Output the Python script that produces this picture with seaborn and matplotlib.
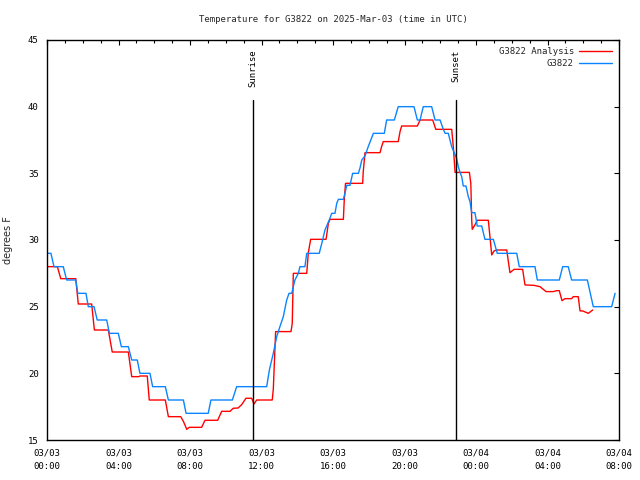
import matplotlib
matplotlib.use("Agg")
import matplotlib.pyplot as plt
import matplotlib.dates as mdates
from matplotlib.ticker import MultipleLocator
import numpy as np
import pandas as pd
import seaborn as sns

# ---------------- data ----------------
start_time = "2025-03-03 00:00"

# G3822 observations: hours after start, temperature (F)
obs_hours = [0.00, 0.22, 0.39, 0.91, 1.10, 1.61, 1.72, 2.18, 2.31, 2.63, 2.81, 3.34,
             3.49, 3.99, 4.16, 4.55, 4.74, 5.05, 5.20, 5.76, 5.91, 6.62, 6.79, 7.63,
             7.78, 9.02, 9.17, 10.37, 10.61, 12.29, 12.44, 12.66, 12.85, 13.03, 13.22,
             13.41, 13.54, 13.69, 13.87, 14.06, 14.15, 14.43, 14.53, 15.23, 15.42,
             15.55, 15.79, 15.93, 16.11, 16.21, 16.30, 16.58, 16.67, 16.77, 16.95,
             17.10, 17.42, 17.51, 17.61, 17.79, 17.97, 18.26, 18.87, 19.00, 19.43,
             19.65, 20.53, 20.72, 20.87, 21.05, 21.52, 21.71, 21.99, 22.17, 22.27,
             22.45, 22.64, 22.92, 23.01, 23.10, 23.20, 23.29, 23.44, 23.57, 23.66,
             23.76, 23.94, 24.07, 24.32, 24.50, 24.97, 25.19, 26.28, 26.42, 27.30,
             27.43, 28.66, 28.85, 29.16, 29.35, 30.23, 30.56, 31.59, 31.78]
obs_temp = [29, 29, 28, 28, 27, 27, 26, 26, 25, 25, 24, 24,
            23, 23, 22, 22, 21, 21, 20, 20, 19, 19, 18, 18,
            17, 17, 18, 18, 19, 19, 20.25, 21.5, 22.75, 23.5, 24.25,
            25.5, 26, 26, 27, 27.5, 28, 28, 29, 29, 30,
            30.75, 31.5, 32, 32, 32.75, 33.05, 33.05, 33.5, 34.1, 34.1,
            35, 35, 35.4, 36, 36.3, 37, 38, 38, 39, 39,
            40, 40, 39, 39, 40, 40, 39, 39, 38.3, 38,
            38, 37, 36.1, 35.5, 35.1, 34.75, 34.05, 34.05, 33.25, 32.9,
            32.05, 32.05, 31.05, 31.05, 30.05, 30.05, 29, 29, 28, 28,
            27, 27, 28, 28, 27, 27, 25, 25, 26]

# G3822 Analysis: hours after start, temperature (F)
ana_hours = [0.00, 0.58, 0.77, 1.61, 1.75, 2.50, 2.65, 3.43, 3.65, 4.55, 4.74, 5.13,
             5.20, 5.61, 5.72, 6.62, 6.79, 7.48, 7.63, 7.82, 7.96, 8.65, 8.84, 9.55,
             9.77, 10.24, 10.42, 10.69, 10.89, 11.13, 11.45, 11.58, 11.73, 12.60,
             12.66, 12.79, 13.65, 13.72, 13.78, 14.53, 14.62, 14.75, 15.61, 15.65,
             15.74, 15.83, 16.58, 16.63, 16.70, 17.66, 17.69, 17.79, 18.63, 18.72,
             18.81, 19.65, 19.75, 19.84, 20.72, 20.87, 21.58, 21.75, 22.64, 22.73,
             22.83, 23.63, 23.71, 23.76, 23.79, 23.94, 24.07, 24.69, 24.78, 24.88,
             25.01, 25.16, 25.72, 25.81, 25.90, 26.13, 26.61, 26.74, 27.24, 27.58,
             27.92, 28.32, 28.51, 28.66, 28.81, 28.98, 29.35, 29.44, 29.72, 29.82,
             29.97, 30.28, 30.53]
ana_temp = [28, 28, 27.1, 27.1, 25.2, 25.2, 23.25, 23.25, 21.6, 21.6, 19.75, 19.75,
            19.8, 19.8, 18, 18, 16.75, 16.75, 16.4, 15.8, 15.95, 15.95, 16.48, 16.48,
            17.15, 17.15, 17.38, 17.4, 17.65, 18.13, 18.13, 17.7, 18, 18,
            18.8, 23.13, 23.13, 23.75, 27.5, 27.5, 29.05, 30.05, 30.05, 30.4,
            31.25, 31.55, 31.55, 33, 34.25, 34.25, 35.1, 36.55, 36.55, 37,
            37.38, 37.38, 38.13, 38.55, 38.55, 39, 39, 38.3, 38.3, 37,
            35.07, 35.07, 34.25, 31.5, 30.8, 31.13, 31.48, 31.48, 30.25, 28.88,
            29.18, 29.25, 29.25, 28.38, 27.55, 27.8, 27.8, 26.63, 26.6, 26.5,
            26.13, 26.13, 26.2, 26.2, 25.45, 25.6, 25.6, 25.75, 25.75, 24.68,
            24.68, 24.5, 24.75]

event_names = ["Sunrise", "Sunset"]
event_hours = [11.52, 22.88]

title_text = "Temperature for G3822 on 2025-Mar-03 (time in UTC)"
y_label = "degrees F"
series_names = ["G3822 Analysis", "G3822"]
series_colors = ["#ff0000", "#0a84ff"]

# ---------------- build frames ----------------
t0 = pd.Timestamp(start_time)
ana_df = pd.DataFrame({"time": t0 + pd.to_timedelta(ana_hours, unit="h"),
                       "temp": ana_temp})
obs_df = pd.DataFrame({"time": t0 + pd.to_timedelta(obs_hours, unit="h"),
                       "temp": obs_temp})

# ---------------- style ----------------
sns.set_style("white")
plt.rcParams["font.family"] = ["DejaVu Sans Mono", "DejaVu Sans"]

fig = plt.figure(figsize=(6.4, 4.8), dpi=100)
ax = fig.add_axes([47 / 640, 40 / 480, (619 - 47) / 640, 400 / 480])

sns.lineplot(data=ana_df, x="time", y="temp", ax=ax, color=series_colors[0],
             linewidth=1.0, label=series_names[0], estimator=None, sort=False)
sns.lineplot(data=obs_df, x="time", y="temp", ax=ax, color=series_colors[1],
             linewidth=1.0, label=series_names[1], estimator=None, sort=False)

# sunrise / sunset markers
for name, h in zip(event_names, event_hours):
    t = t0 + pd.Timedelta(hours=h)
    ax.axvline(t, ymin=0, ymax=0.85, color="black", linewidth=1.0)
    ax.text(t, 44.3, name, rotation=90, ha="center", va="top", fontsize=6.5,
            color="black")

ax.set_xlim(t0, t0 + pd.Timedelta(hours=32))
ax.set_ylim(15, 45)

ax.xaxis.set_major_locator(mdates.HourLocator(byhour=[0, 4, 8, 12, 16, 20]))
ax.xaxis.set_minor_locator(mdates.HourLocator())
ax.xaxis.set_major_formatter(mdates.DateFormatter("%m/%d\n%H:%M"))
ax.yaxis.set_major_locator(MultipleLocator(5))

ax.tick_params(axis="both", which="both", direction="in", top=True, right=True,
               labelsize=6.5, colors="black", pad=6)
ax.tick_params(axis="both", which="major", length=3.5, width=0.8)
ax.tick_params(axis="both", which="minor", length=2.0, width=0.8)
for lbl in ax.get_xticklabels():
    lbl.set_linespacing(1.6)

for sp in ax.spines.values():
    sp.set_color("black")
    sp.set_linewidth(1.0)

ax.set_xlabel("")
ax.set_ylabel(y_label, fontsize=7, family="DejaVu Sans", labelpad=11)
fig.text(333 / 640, 1 - 19 / 480, title_text, ha="center", va="center",
         fontsize=6.5)

leg = ax.legend(loc="upper right", frameon=False, markerfirst=False,
                fontsize=6.5, handlelength=3.6, handletextpad=0.6,
                labelspacing=0.35, borderaxespad=0.4)
for txt in leg.get_texts():
    txt.set_ha("right")

fig.savefig("out.png", dpi=100)
